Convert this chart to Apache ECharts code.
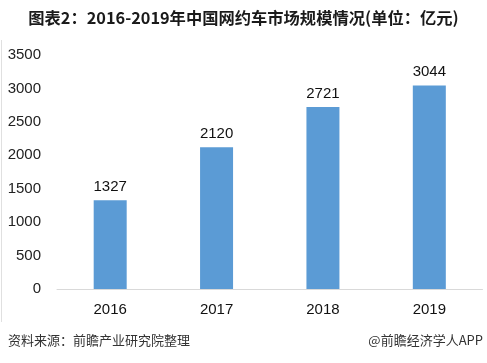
<!DOCTYPE html>
<html><head><meta charset="utf-8">
<script src="https://cdn.jsdelivr.net/npm/echarts@6/dist/echarts.min.js"></script>
<style>html,body{margin:0;padding:0;background:#fff}#c{width:487px;height:363px}</style>
</head><body><div id="c"></div>
<script>
const categories = ['2016', '2017', '2018', '2019'];
const values = [1327, 2120, 2721, 3044];
const titleText = '图表2：2016-2019年中国网约车市场规模情况(单位：亿元)';
const sourceText = '资料来源：前瞻产业研究院整理';
const brandText = '@前瞻经济学人APP';

const chart = echarts.init(document.getElementById('c'), null, {renderer: 'canvas'});
const font = '"Microsoft YaHei","Noto Sans CJK SC",sans-serif';
const numFont = '"Liberation Sans", "DejaVu Sans", sans-serif';
chart.setOption({
  animation: false,
  backgroundColor: '#fff',
  title: {
    text: titleText, left: 'center', top: 5,
    textStyle: {fontSize: 16.3, fontWeight: 'bold', color: '#1a1a1a', fontFamily: font}
  },
  graphic: [
    {type: 'text', left: 8, top: 334, style: {text: sourceText, fontSize: 13, fill: '#333', fontFamily: font}},
    {type: 'text', right: 4, top: 334, style: {text: brandText, fontSize: 13, fill: '#333', fontFamily: font}},
    {type: 'line', shape: {x1: 1.5, y1: 40, x2: 1.5, y2: 322}, style: {stroke: '#e0e0e0', lineWidth: 1}}
  ],
  grid: {left: 57, right: 4.5, top: 55, bottom: 74, containLabel: false},
  xAxis: {
    type: 'category', data: categories,
    axisLine: {show: true, lineStyle: {color: '#d9d9d9', width: 1}},
    axisTick: {show: false},
    axisLabel: {fontSize: 15, color: '#111', margin: 13, fontFamily: numFont}
  },
  yAxis: {
    type: 'value', min: 0, max: 3500, interval: 500,
    axisLine: {show: false}, axisTick: {show: false}, splitLine: {show: false},
    axisLabel: {fontSize: 15, color: '#222', margin: 16, fontFamily: numFont, formatter: v => String(v)}
  },
  series: [{
    type: 'bar', data: values, barWidth: 33,
    itemStyle: {color: '#5B9BD5'},
    label: {show: true, position: 'top', distance: 6, fontSize: 15, color: '#111', fontFamily: numFont}
  }]
});
</script></body></html>
